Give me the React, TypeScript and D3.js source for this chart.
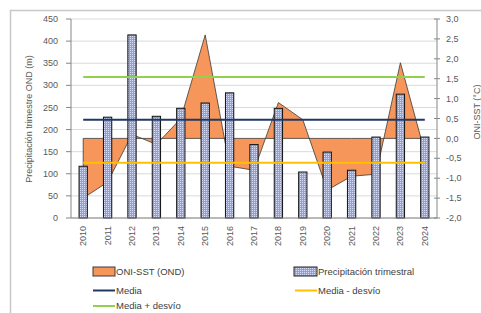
import React from "react";
import * as d3 from "d3";

const years = ["2010","2011","2012","2013","2014","2015","2016","2017","2018","2019","2020","2021","2022","2023","2024"];
const precip = [117, 228, 414, 230, 248, 260, 283, 166, 248, 104, 149, 108, 183, 280, 183];
const oni = [-1.5, -1.1, 0.1, -0.15, 0.5, 2.6, -0.7, -0.8, 0.9, 0.47, -1.3, -0.95, -0.9, 1.9, -0.35];
const media = 222;
const desvio = 97;
const leftTicks = [0, 50, 100, 150, 200, 250, 300, 350, 400, 450];
const rightTicks = [-2, -1.5, -1, -0.5, 0, 0.5, 1, 1.5, 2, 2.5, 3];

const W = 481, H = 313;
const FONT = "'Liberation Sans', Arial, sans-serif";
const TXT = "#595959";

export default function App() {
  const x = d3.scaleBand<string>().domain(years).range([71, 437]).padding(0);
  const yL = d3.scaleLinear().domain([0, 450]).range([218, 19]);
  const yR = d3.scaleLinear().domain([-2, 3]).range([218, 19]);
  const cx = (y: string) => (x(y) as number) + x.bandwidth() / 2;
  const bw = x.bandwidth() * 0.34;

  const areaGen = d3.area<number>()
    .x((_, i) => cx(years[i]))
    .y0(yR(0))
    .y1((d) => yR(d));
  const areaPath = areaGen(oni) as string;

  const x0 = cx(years[0]);
  const x1 = cx(years[years.length - 1]);
  const hlines = [
    { v: media + desvio, c: "#92d050" },
    { v: media, c: "#203864" },
    { v: media - desvio, c: "#ffc000" },
  ];
  const fmt = (v: number) => v.toFixed(1).replace(".", ",");

  return (
    <svg width={W} height={H} style={{ position: "absolute", left: 0, top: 0, background: "#fff" }} fontFamily={FONT}>
      <defs>
        <pattern id="dots" width="2" height="2" patternUnits="userSpaceOnUse">
          <rect width="2" height="2" fill="#8c9fea" />
          <rect x="0" y="0" width="1" height="1" fill="#d6ddfb" />
        </pattern>
      </defs>
      <rect x={0} y={0} width={W} height={H} fill="#fff" />
      {/* chart border */}
      <path d={`M10.5,${H} L10.5,10.5 L${W},10.5`} fill="none" stroke="#c8c8c8" strokeWidth={1.5} />

      {/* gridlines */}
      {leftTicks.map((t) => (
        <line key={"g" + t} x1={71} x2={437} y1={yL(t)} y2={yL(t)} stroke="#d9d9d9" strokeWidth={1} />
      ))}

      {/* ONI area */}
      <path d={areaPath + "Z"} fill="#f7965a" stroke="#3a3a3a" strokeWidth={0.8} />

      {/* bars */}
      {years.map((y, i) => (
        <rect key={"b" + y} x={cx(y) - bw / 2} y={yL(precip[i])} width={bw} height={yL(0) - yL(precip[i])}
          fill="url(#dots)" stroke="#111" strokeWidth={1} />
      ))}

      {/* horizontal reference lines */}
      {hlines.map((h) => (
        <line key={"h" + h.v} x1={x0} x2={x1} y1={yL(h.v)} y2={yL(h.v)} stroke={h.c} strokeWidth={2} />
      ))}

      {/* axes */}
      <line x1={71} x2={71} y1={19} y2={218} stroke="#868686" strokeWidth={1} />
      <line x1={71} x2={437} y1={218} y2={218} stroke="#868686" strokeWidth={1} />
      <line x1={437} x2={437} y1={19} y2={218} stroke="#868686" strokeWidth={1} />
      {leftTicks.map((t) => (
        <g key={"lt" + t}>
          <line x1={66} x2={71} y1={yL(t)} y2={yL(t)} stroke="#868686" />
          <text x={58} y={yL(t)} dy="0.35em" textAnchor="end" fontSize={9} fill={TXT}>{t}</text>
        </g>
      ))}
      {rightTicks.map((t) => (
        <g key={"rt" + t}>
          <line x1={434} x2={440} y1={yR(t)} y2={yR(t)} stroke="#868686" />
          <text x={446} y={yR(t)} dy="0.35em" textAnchor="start" fontSize={9} fill={TXT}>{fmt(t)}</text>
        </g>
      ))}
      {years.map((y) => (
        <text key={"xl" + y} transform={`translate(${cx(y) + 3},226) rotate(-90)`} textAnchor="end" fontSize={9} fill={TXT}>{y}</text>
      ))}

      {/* axis titles */}
      <text transform="translate(32,119) rotate(-90)" textAnchor="middle" fontSize={9} fill={TXT}>Precipitación trimestre OND (m)</text>
      <text transform="translate(480,112) rotate(-90)" textAnchor="middle" fontSize={9} fill={TXT}>ONI-SST (°C)</text>

      {/* legend */}
      <g fontSize={9.5} fill="#404040">
        <rect x={93} y={267} width={22} height={9} fill="#f7965a" stroke="#3a3a3a" strokeWidth={1} />
        <text x={116} y={272} dy="0.35em">ONI-SST (OND)</text>
        <rect x={294} y={267} width={23} height={9} fill="url(#dots)" stroke="#222" strokeWidth={1} />
        <text x={318} y={272} dy="0.35em">Precipitación trimestral</text>
        <line x1={93} x2={115} y1={290.5} y2={290.5} stroke="#203864" strokeWidth={2} />
        <text x={116} y={290.5} dy="0.35em">Media</text>
        <line x1={295} x2={317} y1={290.5} y2={290.5} stroke="#ffc000" strokeWidth={2} />
        <text x={318} y={290.5} dy="0.35em">Media - desvío</text>
        <line x1={93} x2={115} y1={306} y2={306} stroke="#92d050" strokeWidth={2} />
        <text x={116} y={306} dy="0.35em">Media + desvío</text>
      </g>
    </svg>
  );
}
